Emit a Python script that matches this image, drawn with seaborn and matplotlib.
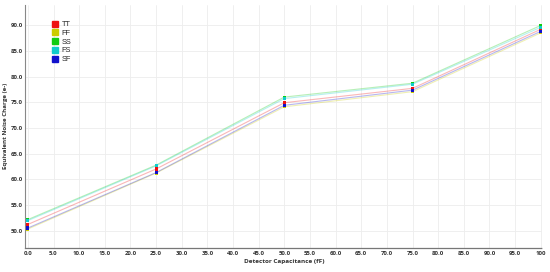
import seaborn as sns
import pandas as pd
import matplotlib.pyplot as plt
from matplotlib.lines import Line2D

capacitance = [0, 25, 50, 75, 100]
corners = ["TT", "FF", "SS", "FS", "SF"]
enc_tt = [51.2, 62.0, 74.9, 77.7, 89.2]
enc_ff = [50.3, 61.2, 74.1, 77.05, 88.5]
enc_ss = [52.15, 62.75, 76.0, 78.7, 89.95]
enc_fs = [51.95, 62.6, 75.7, 78.5, 89.6]
enc_sf = [50.5, 61.3, 74.4, 77.35, 88.8]
colors = ["#ee1111", "#cccc00", "#11cc11", "#11cccc", "#1111cc"]

x_ticks = [0, 5, 10, 15, 20, 25, 30, 35, 40, 45, 50, 55, 60, 65, 70, 75, 80, 85, 90, 95, 100]
x_labels = ["%.1f" % v for v in x_ticks[:-1]] + ["100"]
y_ticks = [50, 55, 60, 65, 70, 75, 80, 85, 90]

rows = []
for name, vals in zip(corners, [enc_tt, enc_ff, enc_ss, enc_fs, enc_sf]):
    for c, v in zip(capacitance, vals):
        rows.append({"cap": c, "enc": v, "corner": name})
data = pd.DataFrame(rows)
pal = dict(zip(corners, colors))

sns.set_style("white")
plt.rcParams["font.family"] = ["Open Sans", "DejaVu Sans"]
fig = plt.figure(figsize=(5.5, 2.72), dpi=100)
ax = fig.add_axes([0.046, 0.088, 0.94, 0.895])

sns.lineplot(data, x="cap", y="enc", hue="corner", hue_order=corners, palette=pal,
             alpha=0.3, linewidth=0.8, legend=False, ax=ax)
sns.scatterplot(data, x="cap", y="enc", hue="corner", hue_order=corners, palette=pal,
                marker="s", s=5, linewidth=0, legend=False, ax=ax, zorder=3)

ax.set_xlim(-0.5, 100.3)
ax.set_ylim(46.6, 94.0)
ax.set_xticks(x_ticks)
ax.set_xticklabels(x_labels)
ax.set_yticks(y_ticks)
ax.set_yticklabels(["%.1f" % v for v in y_ticks])
ax.tick_params(labelsize=4.3, length=0, pad=2)
for lab in ax.get_xticklabels() + ax.get_yticklabels():
    lab.set_fontweight("bold")
    lab.set_color("#333333")
ax.grid(True, color="#ededed", linewidth=0.6)
ax.set_xlabel("Detector Capacitance (fF)", fontsize=4.6, fontweight="bold", labelpad=2, color="#333333")
ax.set_ylabel("Equivalent Noise Charge (e-)", fontsize=4.4, fontweight="bold", labelpad=1.5, color="#333333")

for s in ["top", "right"]:
    ax.spines[s].set_visible(False)
ax.spines["left"].set_color("#888888")
ax.spines["left"].set_linewidth(0.8)
ax.spines["bottom"].set_color("#777777")
ax.spines["bottom"].set_linewidth(0.9)
ax.spines["bottom"].set_linestyle((0, (1, 1)))

handles = [Line2D([], [], marker="s", linestyle="", color=c, markersize=4.5) for c in colors]
leg = ax.legend(handles, corners, loc="upper left", bbox_to_anchor=(0.045, 0.945),
                frameon=False, fontsize=5.3, handletextpad=0.4, labelspacing=0.22,
                handlelength=1.0, borderaxespad=0)
for t in leg.get_texts():
    t.set_fontfamily(["Liberation Sans", "DejaVu Sans"])

fig.savefig("out.png", dpi=100, facecolor="white")
